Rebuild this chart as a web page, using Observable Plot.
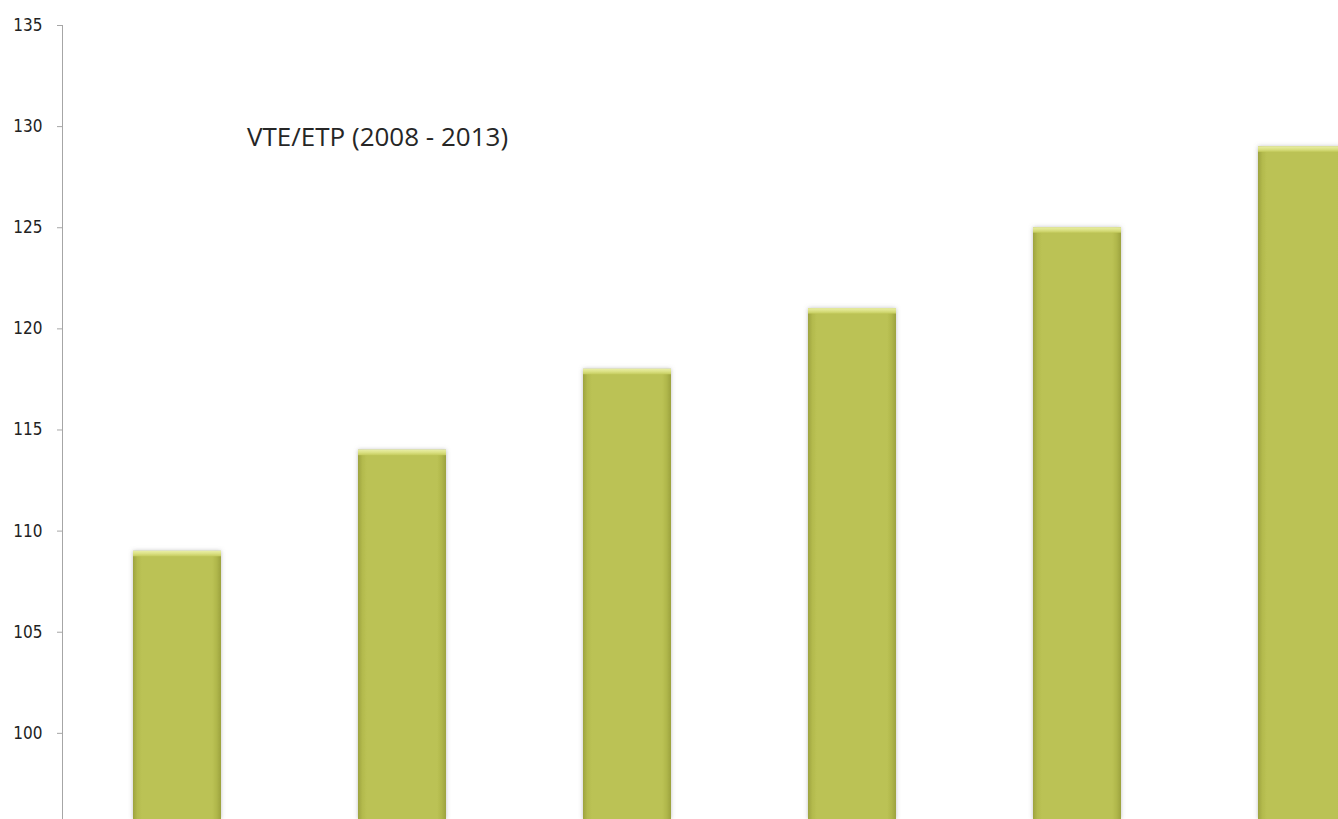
<!DOCTYPE html>
<html>
<head>
<meta charset="utf-8">
<script src="https://cdn.jsdelivr.net/npm/d3@7"></script>
<script src="https://cdn.jsdelivr.net/npm/@observablehq/plot@0.6"></script>
<style>
  html, body { margin: 0; padding: 0; background: #fff; overflow: hidden; }
  #wrap { position: relative; width: 1338px; height: 819px; overflow: hidden; }
  #title { position: absolute; left: 247px; top: 118px; font-family: "Open Sans", sans-serif; font-size: 26px; color: #262626; white-space: nowrap; }
</style>
</head>
<body>
<div id="wrap">
  <div id="chart"></div>
  <div id="title">VTE/ETP (2008 - 2013)</div>
</div>
<script>
const years = ["2008", "2009", "2010", "2011", "2012", "2013"];
const values = [109, 114, 118, 121, 125, 129];
const yTicks = [100, 105, 110, 115, 120, 125, 130, 135];
const yMin = 95.74, yMax = 135;

const data = years.map((year, i) => ({year, value: values[i]}));

const chart = Plot.plot({
  width: 1338,
  height: 819,
  marginLeft: 62,
  marginRight: 0,
  marginTop: 25,
  marginBottom: 0,
  style: {fontFamily: "'DejaVu Sans Condensed', 'DejaVu Sans', sans-serif", background: "white", overflow: "hidden"},
  x: {type: "band", domain: years, range: [64.5, 1414.5], paddingInner: 0.609, paddingOuter: 0.3045, axis: null},
  y: {domain: [yMin, yMax], axis: null},
  marks: [
    Plot.barY(data, {x: "year", y1: yMin, y2: "value", fill: "url(#barGrad)"}),
    Plot.barY(data, {x: "year", y1: d => d.value - 0.27, y2: "value", fill: "url(#capGrad)"}),
    Plot.frame({anchor: "left", stroke: "#a6a6a6"}),
    Plot.axisY({ticks: yTicks, tickSize: 5, tickPadding: 15, tickFormat: d => String(d), fontSize: 17, label: null, color: "#222"})
  ]
});

// gradients / shadow for the bevelled bars
const svg = d3.select(chart);
const defs = svg.insert("defs", ":first-child");
const g1 = defs.append("linearGradient").attr("id", "barGrad").attr("x1", 0).attr("x2", 1).attr("y1", 0).attr("y2", 0);
[[0, "#9da33f"], [0.05, "#b3ba4d"], [0.1, "#bbc254"], [0.9, "#bbc254"], [0.95, "#b0b74b"], [1, "#9ca23e"]]
  .forEach(([o, c]) => g1.append("stop").attr("offset", o).attr("stop-color", c));
const g2 = defs.append("linearGradient").attr("id", "capGrad").attr("x1", 0).attr("x2", 0).attr("y1", 0).attr("y2", 1);
[[0, "#e9eea6"], [0.5, "#dbe184"], [1, "#c5cc5e"]]
  .forEach(([o, c]) => g2.append("stop").attr("offset", o).attr("stop-color", c));
const f = defs.append("filter").attr("id", "shadow").attr("x", "-20%").attr("y", "-5%").attr("width", "140%").attr("height", "110%");
f.append("feDropShadow").attr("dx", 0).attr("dy", 0).attr("stdDeviation", 2).attr("flood-color", "#808080").attr("flood-opacity", 0.5);
svg.selectAll('g[aria-label="bar"]').filter((d, i) => i === 0).attr("filter", "url(#shadow)");
svg.selectAll('g[aria-label="y-axis tick"] path').attr("stroke", "#a6a6a6");

document.getElementById("chart").appendChild(chart);
</script>
</body>
</html>
